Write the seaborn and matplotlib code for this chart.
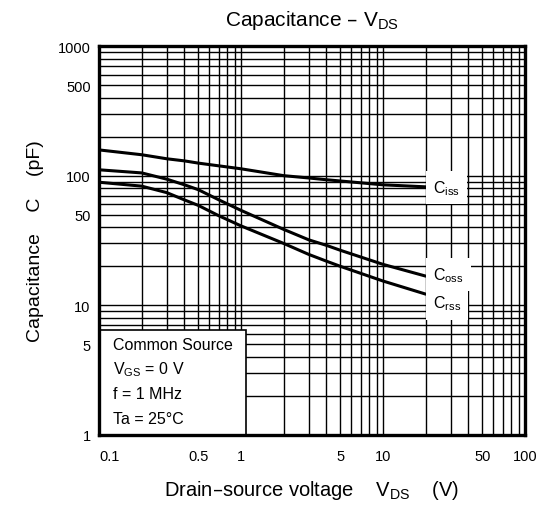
import matplotlib
matplotlib.use("Agg")
import matplotlib.pyplot as plt
import numpy as np
import pandas as pd
import seaborn as sns
from matplotlib.ticker import FixedLocator, FixedFormatter, LogLocator, NullFormatter
from matplotlib.patches import Rectangle

# ---- data ----
vds = [0.1, 0.2, 0.3, 0.4, 0.5, 0.7, 1, 2, 3, 4, 5, 10, 20]
ciss = [158, 145, 135, 130, 125, 119, 113, 100, 96, 93, 91, 85, 82]
coss = [111, 105, 94, 85, 78, 65, 54, 38.5, 32, 29, 26.6, 20.7, 16.8]
crss = [89, 83, 74, 65, 59, 49, 41, 30, 24.7, 21.9, 20, 15.4, 12.2]
series_names = ["Ciss", "Coss", "Crss"]
series_labels = ["$C_{iss}$", "$C_{oss}$", "$C_{rss}$"]
x_ticks = [0.1, 0.5, 1, 5, 10, 50, 100]
x_ticklabels = ["0.1", "0.5", "1", "5", "10", "50", "100"]
y_ticks = [1, 5, 10, 50, 100, 500, 1000]
y_ticklabels = ["1", "5", "10", "50", "100", "500", "1000"]
conditions = ["Common Source", "$V_{GS}$ = 0 V", "f = 1 MHz", "Ta = 25°C"]

df = pd.DataFrame({
    "VDS": vds * 3,
    "C": ciss + coss + crss,
    "series": [series_names[0]] * len(vds) + [series_names[1]] * len(vds) + [series_names[2]] * len(vds),
})

sns.set_theme(style="white")
plt.rcParams["font.family"] = ["Liberation Sans", "DejaVu Sans"]
plt.rcParams["mathtext.default"] = "regular"

fig = plt.figure(figsize=(5.45, 5.06), dpi=100)
ax = fig.add_axes([99 / 545, 70 / 506, 426 / 545, 389 / 506])

sns.lineplot(data=df, x="VDS", y="C", hue="series",
             palette={n: "black" for n in series_names},
             estimator=None, sort=False, legend=False, linewidth=2.2, ax=ax, zorder=3)
for ln in ax.lines:
    ln.set_solid_joinstyle("round")

ax.set_xscale("log")
ax.set_yscale("log")
ax.set_xlim(0.1, 100)
ax.set_ylim(1, 1000)

ax.xaxis.set_major_locator(FixedLocator(x_ticks))
ax.xaxis.set_major_formatter(FixedFormatter(x_ticklabels))
ax.yaxis.set_major_locator(FixedLocator(y_ticks))
ax.yaxis.set_major_formatter(FixedFormatter(y_ticklabels))
ax.xaxis.set_minor_locator(LogLocator(base=10, subs=np.arange(1, 10), numticks=20))
ax.yaxis.set_minor_locator(LogLocator(base=10, subs=np.arange(1, 10), numticks=20))
ax.xaxis.set_minor_formatter(NullFormatter())
ax.yaxis.set_minor_formatter(NullFormatter())

ax.set_axisbelow(True)
ax.grid(which="both", color="black", linewidth=1.0)
ax.tick_params(which="both", length=0, labelsize=10.5, colors="black")
ax.tick_params(axis="x", pad=10)
ax.tick_params(axis="y", pad=6)
ax.get_xticklabels()[0].set_horizontalalignment("left")

for s in ax.spines.values():
    s.set_visible(True)
    s.set_color("black")
    s.set_linewidth(2.4)
    s.set_zorder(6)

ax.set_xlabel("Drain\u2013source voltage    $V_{DS}$    (V)", fontsize=14.5, color="black")
ax.xaxis.label.set_va("center")
ax.xaxis.set_label_coords(0.5, -0.139)
ax.set_ylabel("Capacitance    C    (pF)", fontsize=14, color="black")
ax.yaxis.label.set_va("center")
ax.yaxis.set_label_coords(-0.150, 0.5)

ax.text(0.5, 1.069, "Capacitance \u2013 $V_{DS}$", transform=ax.transAxes,
        ha="center", va="center", fontsize=15, color="black")

# curve labels
label_pos = [(22.5, 81), (22.5, 17.3), (22.5, 10.4)]
for (lx, ly), lab in zip(label_pos, series_labels):
    ax.text(lx, ly, lab, ha="left", va="center", fontsize=11.5, color="black", zorder=5,
            bbox=dict(boxstyle="square,pad=0.45", facecolor="white", edgecolor="none"))

# conditions box
ax.add_patch(Rectangle((0, 0), 0.345, 0.27, transform=ax.transAxes, facecolor="white",
                       edgecolor="black", linewidth=1.2, zorder=4))
ys = [0.221, 0.159, 0.095, 0.031]
for t, yy in zip(conditions, ys):
    ax.text(0.033, yy, t, transform=ax.transAxes, ha="left", va="baseline",
            fontsize=11.5, color="black", zorder=5)

fig.savefig("out.png", dpi=100)
